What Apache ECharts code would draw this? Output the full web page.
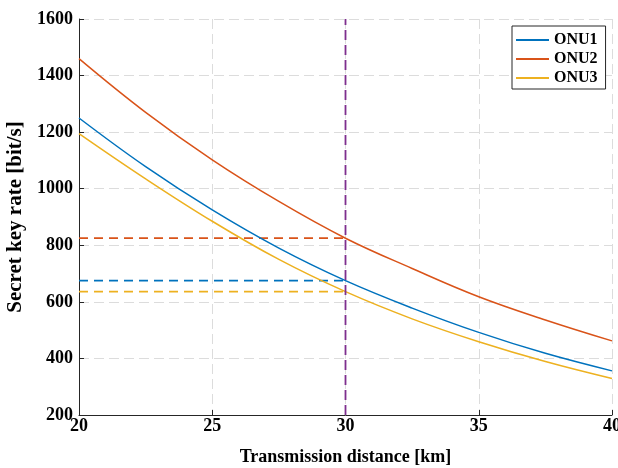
<!DOCTYPE html>
<html>
<head>
<meta charset="utf-8">
<script src="https://cdn.jsdelivr.net/npm/echarts@6/dist/echarts.min.js"></script>
<style>
html, body { margin: 0; padding: 0; background: #fff; }
#main { width: 618px; height: 468px; }
</style>
</head>
<body>
<div id="main"></div>
<script>
// data
var distance = [20, 22.5, 25, 27.5, 30, 32.5, 35, 37.5, 40];
var onu1 = [1250, 1078, 925, 790, 675, 578, 492, 418, 356];
var onu2 = [1460, 1270, 1102, 955, 825, 718, 618, 536, 462];
var onu3 = [1195, 1035, 885, 750, 636, 540, 459, 389, 329];
var names = ['ONU1', 'ONU2', 'ONU3'];
var refDistance = 30;
var refRates = [675, 825, 636];

var colors = ['#0072BD', '#D95319', '#EDB120'];
var font = "'Liberation Serif', 'Times New Roman', serif";

var dom = document.getElementById('main');
var myChart = echarts.init(dom);

function pairs(xs, ys) {
    return xs.map(function (x, i) { return [x, ys[i]]; });
}

var curves = [onu1, onu2, onu3];
var series = [];
curves.forEach(function (ys, i) {
    series.push({
        name: names[i],
        type: 'line',
        data: pairs(distance, ys),
        symbol: 'none',
        smooth: 0.4,
        lineStyle: { color: colors[i], width: 1.5 },
        itemStyle: { color: colors[i] },
        z: 3
    });
    // dashed level up to the reference distance
    series.push({
        name: names[i] + ' level',
        type: 'line',
        data: [[distance[0], refRates[i]], [refDistance, refRates[i]]],
        symbol: 'none',
        lineStyle: { color: colors[i], width: 1.8, type: [9, 6] },
        z: 2
    });
});
// vertical marker at 30 km
series.push({
    name: 'ref',
    type: 'line',
    data: [[refDistance, 200], [refDistance, 1600]],
    symbol: 'none',
    lineStyle: { color: '#7E2F8E', width: 1.8, type: [10, 5] },
    z: 4
});

var option = {
    animation: false,
    backgroundColor: '#fff',
    grid: { left: 79, right: 6, top: 19, bottom: 53, outerBoundsMode: 'none', containLabel: false },
    legend: {
        data: names,
        orient: 'vertical',
        left: 512,
        top: 26,
        padding: [6, 8, 3, 4],
        itemGap: 3,
        itemWidth: 33,
        itemHeight: 2,
        itemTextGap: 4,
        icon: 'rect',
        borderColor: '#262626',
        borderWidth: 1,
        backgroundColor: '#fff',
        textStyle: { fontFamily: font, fontWeight: 'bold', fontSize: 16, color: '#000' }
    },
    xAxis: {
        type: 'value',
        min: 20,
        max: 40,
        interval: 5,
        name: 'Transmission distance [km]',
        nameLocation: 'middle',
        nameGap: 33,
        nameTextStyle: { fontFamily: font, fontWeight: 'bold', fontSize: 18, color: '#000' },
        axisLine: { lineStyle: { color: '#262626', width: 1 } },
        axisTick: { inside: true, length: 5, lineStyle: { color: '#262626' } },
        axisLabel: {
            fontFamily: font, fontWeight: 'bold', fontSize: 18, color: '#000', margin: 2,
            formatter: function (v) { return String(v); }
        },
        splitLine: { show: true, lineStyle: { color: '#dcdcdc', width: 1, type: [10, 5] } }
    },
    yAxis: {
        type: 'value',
        min: 200,
        max: 1600,
        interval: 200,
        name: 'Secret key rate [bit/s]',
        nameLocation: 'middle',
        nameGap: 53,
        nameTextStyle: { fontFamily: font, fontWeight: 'bold', fontSize: 21, color: '#000' },
        axisLine: { show: true, lineStyle: { color: '#262626', width: 1 } },
        axisTick: { show: true, inside: true, length: 5, lineStyle: { color: '#262626' } },
        axisLabel: {
            fontFamily: font, fontWeight: 'bold', fontSize: 18, color: '#000', margin: 6,
            formatter: function (v) { return String(v); }
        },
        splitLine: { show: true, lineStyle: { color: '#dcdcdc', width: 1, type: [10, 5] } }
    },
    series: series
};

myChart.setOption(option);
</script>
</body>
</html>
